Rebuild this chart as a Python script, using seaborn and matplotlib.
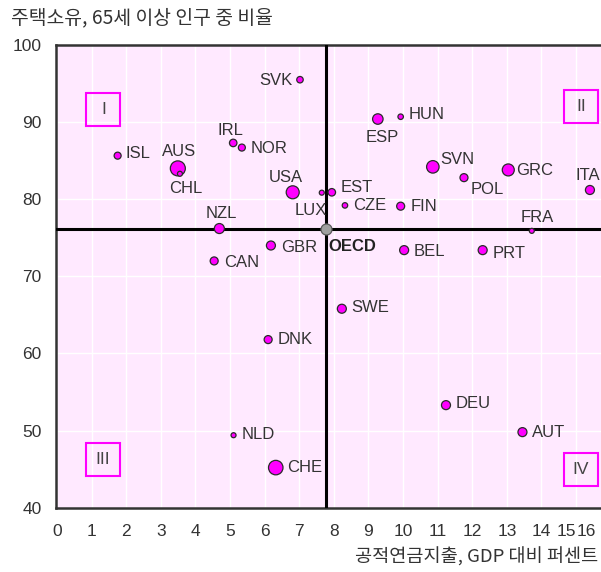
import matplotlib
matplotlib.use("Agg")
import matplotlib.pyplot as plt
from matplotlib.patches import Rectangle
import seaborn as sns
import pandas as pd

# OECD countries: public pension spending (% of GDP) vs. home ownership among people aged 65+
countries = ["SVK", "HUN", "ESP", "SVN", "POL", "GRC", "ITA", "EST", "LUX", "CZE",
             "FIN", "FRA", "ISL", "AUS", "CHL", "IRL", "NOR", "USA", "NZL", "GBR",
             "CAN", "BEL", "PRT", "SWE", "DNK", "DEU", "AUT", "NLD", "CHE"]
pension_spending = [7.02, 9.93, 9.27, 10.86, 11.76, 13.04, 15.40, 7.94, 7.65, 8.32,
                    9.93, 13.72, 1.75, 3.49, 3.55, 5.09, 5.34, 6.81, 4.69, 6.18,
                    4.54, 10.03, 12.30, 8.23, 6.10, 11.24, 13.45, 5.10, 6.32]
home_ownership = [95.5, 90.7, 90.4, 84.2, 82.8, 83.8, 81.2, 80.9, 80.85, 79.2,
                  79.1, 75.9, 85.65, 84.0, 83.3, 87.3, 86.7, 80.9, 76.2, 74.0,
                  72.0, 73.4, 73.4, 65.8, 61.8, 53.3, 49.8, 49.4, 45.2]
bubble_weight = [42, 30, 110, 156, 64, 144, 81, 56, 25, 30,
                 64, 25, 49, 225, 25, 56, 49, 169, 100, 81,
                 64, 81, 81, 81, 64, 81, 81, 25, 210]

oecd_label = "OECD"
oecd_spending = 7.78
oecd_ownership = 76.1

x_ticks = list(range(0, 17))
y_ticks = [40, 50, 60, 70, 80, 90, 100]
quadrant_names = ["I", "II", "III", "IV"]

title = "주택소유, 65세 이상 인구 중 비율"
x_title = "공적연금지출, GDP 대비 퍼센트"

# label placement: (dx, dy) in pixels from the point, horizontal alignment
label_layout = {
    "SVK": (-7, -1, "right"), "HUN": (8, 2, "left"), "ESP": (4, -18, "center"),
    "SVN": (7, 7, "left"), "POL": (7, -12, "left"), "GRC": (8, -1, "left"),
    "ITA": (10, 14, "right"), "EST": (9, 5, "left"), "LUX": (5, -18, "right"),
    "CZE": (8, 0, "left"), "FIN": (10, 0, "left"), "FRA": (5, 13, "center"),
    "ISL": (8, 2, "left"), "AUS": (1, 17, "center"), "CHL": (6, -15, "center"),
    "IRL": (-3, 12, "center"), "NOR": (9, -1, "left"), "USA": (-7, 15, "center"),
    "NZL": (2, 15, "center"), "GBR": (10, -2, "left"), "CAN": (10, -2, "left"),
    "BEL": (10, -1, "left"), "PRT": (10, -3, "left"), "SWE": (9, 1, "left"),
    "DNK": (9, 0, "left"), "DEU": (10, 2, "left"), "AUT": (10, 0, "left"),
    "NLD": (8, 1, "left"), "CHE": (11, 0, "left"),
}
# quadrant box centres (data units)
quadrant_centres = [(1.34, 91.6), (15.15, 92.0), (1.33, 46.2), (15.13, 44.9)]

df = pd.DataFrame({"country": countries, "spending": pension_spending,
                   "ownership": home_ownership, "weight": bubble_weight})

sns.set_theme(style="white")
plt.rcParams["font.family"] = ["Liberation Sans", "Noto Sans CJK KR", "DejaVu Sans"]
TEXT = "#333333"
PINK_BG = "#FFE9FF"
MAGENTA = "#FF00FF"

fig = plt.figure(figsize=(6.01, 5.72), dpi=100)
ax = fig.add_axes([55.7 / 601, 1 - 507.7 / 572, (601 - 55.7) / 601, (507.7 - 45) / 572])
ax.set_facecolor(PINK_BG)

px_to_pt2 = 0.72 ** 2
wmin, wmax = min(bubble_weight), max(bubble_weight)
sns.scatterplot(data=df, x="spending", y="ownership", size="weight",
                sizes=(wmin * px_to_pt2, wmax * px_to_pt2), size_norm=(wmin, wmax),
                color=MAGENTA, edgecolor="#2a2a2a", linewidth=0.9, alpha=1,
                legend=False, ax=ax, zorder=4)

# OECD average cross-hairs and point
ax.axvline(oecd_spending, color="black", lw=2.2, zorder=3)
ax.axhline(oecd_ownership, color="black", lw=2.2, zorder=3)
ax.scatter([oecd_spending], [oecd_ownership], s=121 * px_to_pt2, marker="o",
           color="#a0a0a0", edgecolor="#5a5a5a", linewidth=0.9, zorder=5)

for name, xv, yv in zip(countries, pension_spending, home_ownership):
    dx, dy, ha = label_layout[name]
    ax.annotate(name, (xv, yv), xytext=(dx, dy), textcoords="offset pixels",
                ha=ha, va="center", fontsize=12, color=TEXT, zorder=6)
ax.annotate(oecd_label, (oecd_spending, oecd_ownership), xytext=(2, -17),
            textcoords="offset pixels", ha="left", va="center", fontsize=12,
            fontweight="bold", color="#222222", zorder=6)

# quadrant markers
bw, bh = 34 / 34.6, 33 / 7.712
for name, (cx, cy) in zip(quadrant_names, quadrant_centres):
    ax.add_patch(Rectangle((cx - bw / 2, cy - bh / 2), bw, bh, fill=False,
                           edgecolor=MAGENTA, lw=1.5, zorder=5))
    ax.text(cx, cy, name, ha="center", va="center", fontsize=12.5, color="#444444",
            zorder=6)

ax.set_xlim(-0.04, 15.72)
ax.set_ylim(40, 100)
ax.set_xticks(x_ticks[:16])
ax.set_xticklabels([str(t) for t in x_ticks[:15]] + [""])
ax.set_xticks([14.71, 15.29], minor=True)
ax.set_xticklabels([str(x_ticks[15]), str(x_ticks[16])], minor=True)
ax.set_yticks(y_ticks)
ax.set_yticklabels([str(t) for t in y_ticks])
ax.tick_params(axis="x", which="major", direction="in", length=5, width=1.1,
               color="#444444", pad=12, labelsize=12.5, labelcolor=TEXT)
ax.tick_params(axis="x", which="minor", direction="in", length=0, pad=12,
               labelsize=12.5, labelcolor=TEXT)
ax.tick_params(axis="y", direction="in", length=5, width=1.1, color="#444444",
               pad=10, labelsize=12.5, labelcolor=TEXT)
ax.set_xlabel("")
ax.set_ylabel("")

ax.grid(True, which="major", color="white", lw=1.0)
ax.set_axisbelow(True)
for side in ["left", "bottom", "top"]:
    ax.spines[side].set_color("#333333")
    ax.spines[side].set_linewidth(1.8)
    ax.spines[side].set_visible(True)
ax.spines["right"].set_visible(False)

fig.text(11 / 601, 1 - 18 / 572, title, ha="left", va="center", fontsize=13.9,
         color=TEXT, family=["Noto Sans CJK KR", "DejaVu Sans"])
fig.text(598 / 601, 1 - 557 / 572, x_title, ha="right", va="center", fontsize=13.4,
         color=TEXT, family=["Noto Sans CJK KR", "DejaVu Sans"])

fig.savefig("out.png", dpi=100)
